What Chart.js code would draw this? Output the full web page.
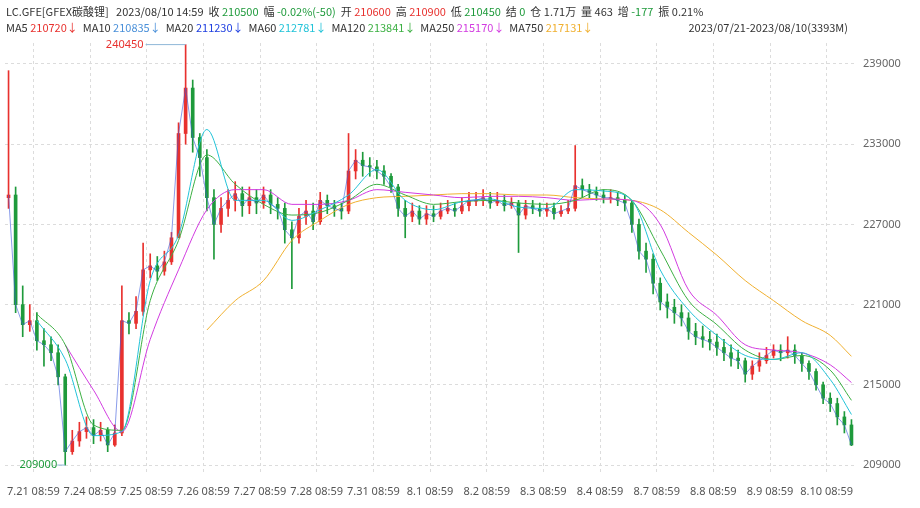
<!DOCTYPE html>
<html><head><meta charset="utf-8">
<script src="https://cdn.jsdelivr.net/npm/chart.js@4"></script>
<style>
body{margin:0;background:#fff;font-family:"Noto Sans CJK SC","Noto Sans",sans-serif;}
#wrap{position:relative;width:920px;height:508px;}
canvas{position:absolute;left:0;top:0;}
.h{position:absolute;font-size:11px;color:#333;white-space:nowrap;}
.r{color:#e8312e}.g{color:#1e9a3b}
</style></head><body>
<div id="wrap">
<canvas id="c" width="920" height="508"></canvas>
<div class="h" style="left:6px;top:3px">LC.GFE[GFEX碳酸锂] &nbsp; 2023/08/10 14:59 &nbsp;收 <span class="g">210500</span> &nbsp;幅 <span class="g">-0.02%(-50)</span> &nbsp;开 <span class="r">210600</span> &nbsp;高 <span class="r">210900</span> &nbsp;低 <span class="g">210450</span> &nbsp;结 <span class="g">0</span> &nbsp;仓 1.71万 &nbsp;量 463 &nbsp;增 <span class="g">-177</span> &nbsp;振 0.21%</div>
<div class="h" style="left:6px;top:19px">MA5 <span style="color:#e8312e">210720↓</span> &nbsp;MA10 <span style="color:#4a90d9">210835↓</span> &nbsp;MA20 <span style="color:#2040e0">211230↓</span> &nbsp;MA60 <span style="color:#22c3d8">212781↓</span> &nbsp;MA120 <span style="color:#3cb043">213841↓</span> &nbsp;MA250 <span style="color:#d23be0">215170↓</span> &nbsp;MA750 <span style="color:#f0b030">217131↓</span></div>
<div class="h" style="right:72px;top:19px">2023/07/21-2023/08/10(3393M)</div>
</div>
<script>
const days=["7.21 08:59","7.24 08:59","7.25 08:59","7.26 08:59","7.27 08:59","7.28 08:59","7.31 08:59","8.1 08:59","8.2 08:59","8.3 08:59","8.4 08:59","8.7 08:59","8.8 08:59","8.9 08:59","8.10 08:59"];
const yTicks=[209000,215000,221000,227000,233000,239000];
const firstOpen=229000;
const closes=[229200,221000,219500,219800,218300,218000,217400,215600,
210000,210800,211500,211800,211200,211600,210500,211400,
219800,219600,220500,223600,223900,223500,224200,226000,
233800,237200,233500,232000,229000,227000,228200,228800,
229300,228400,229000,228600,229200,228500,228200,226600,
226000,227600,228000,227200,228800,228400,228200,228000,
231000,231800,231400,231300,231000,230600,229800,228200,
227600,228000,227400,227800,227600,228000,228200,228000,
228400,228800,228800,229000,228600,228800,228400,228600,
227700,228400,228200,228000,228200,227800,228000,228200,
229900,229600,229400,229200,229000,229000,228800,228600,
227000,225000,224400,222600,221200,220800,220400,220000,
219000,218600,218400,218200,217800,217400,217000,216800,
215800,216400,216800,217200,217600,217400,217600,217200,
216600,216000,215000,214000,213600,212600,212000,210500];
const highs=[238500,229800,222400,221000,220400,219200,218600,218000,
215800,211600,212200,212600,212400,212200,211800,212000,
222400,220400,221600,225600,224800,224600,225000,226400,
234600,240450,237800,233800,232600,229600,229000,229600,
230200,229800,229800,229600,229800,229600,229000,228600,
227200,228200,228800,228600,229400,229200,228800,228600,
233800,232600,232400,232000,231800,231400,230800,230000,
228800,228600,228400,228400,228400,228600,228800,228600,
229000,229400,229400,229600,229400,229400,229200,229000,
228800,228800,228800,228600,228600,228600,228400,228800,
232900,230400,230000,229800,229600,229600,229400,229200,
228800,227400,225600,224800,223000,221800,221400,221000,
220400,219600,219400,219000,218800,218400,218000,217600,
217000,216800,217400,217800,218000,218000,218600,218000,
217400,216800,216200,215200,214400,214000,213000,212400];
const lows=[228200,220400,218600,219000,217600,216400,216800,215000,
209000,209800,210400,211000,210600,210800,210000,210400,
211200,218800,219200,220200,223000,222800,223200,224000,
226200,233000,232400,230600,228000,224400,226400,227600,
228000,227600,227800,227800,228200,227800,227400,225600,
222200,225600,227000,226600,227000,227800,227600,227400,
227800,230400,230600,230600,230400,230000,229400,227600,
226000,227200,227000,227000,227200,227400,227800,227600,
227800,228000,228400,228400,228200,228400,228000,228200,
224900,227400,227800,227600,227600,227400,227600,227800,
228000,229000,229000,228800,228600,228600,228400,228000,
226400,224400,223400,221800,220600,220000,219600,219400,
218400,218000,217800,217600,217200,216800,216400,216200,
215200,215400,216000,216600,217000,216800,217000,216600,
216000,215400,214600,213600,213000,212000,211400,210450];
// moving-average readings sampled at bars 0,4,8,...,116 and the last bar
const ma60=[null,219800,216900,211200,211500,222800,226200,234100,228800,228800,227300,228100,229200,231100,228800,228100,228700,228900,228300,228200,229600,229500,228800,223600,220600,218700,217200,216900,217400,215400,212781];
const ma120=[null,220300,218000,212000,211600,221300,225800,232200,230000,228500,227700,227900,228800,230000,229200,228500,228700,228800,228600,228500,228800,229600,228800,225100,221300,219500,217600,216900,217200,216100,213841];
const ma250=[null,null,218000,214600,211500,218400,223600,228100,229600,229600,228500,228500,228800,229600,229400,229200,229000,229100,229100,229000,228800,228900,228800,227000,222100,220200,218000,217600,217400,216500,215170];
const ma750=[null,null,null,null,null,null,null,219100,221300,222800,225800,227300,228500,229000,229100,229200,229300,229300,229200,229200,229000,228900,228800,228100,226400,224700,222800,221300,219800,218700,217131];

const N=closes.length;
const opens=closes.map((c,i)=>i===0?firstOpen:closes[i-1]);
const up=closes.map((c,i)=>c>=opens[i]);
const RED='#e8312e',GRN='#1e9a3b';
function expand(s){const a=[];for(let k=0;k<s.length;k++){const idx=k<s.length-1?k*4:N-1;if(s[k]!==null)a.push({x:idx+0.5,y:s[k]});}return a;}
const line=(d,c)=>({type:'line',data:expand(d),borderColor:c,borderWidth:1,pointRadius:0,cubicInterpolationMode:'monotone',order:0});
const cols=up.map(u=>u?RED:GRN);
const annot={id:'annot',afterDraw(ch){const c=ch.ctx,x=ch.scales.x,y=ch.scales.y,a=ch.chartArea;
 c.save();c.font='11px "Noto Sans","Noto Sans CJK SC",sans-serif';c.fillStyle='#555';c.textAlign='center';c.textBaseline='top';
 days.forEach((d,i)=>c.fillText(d,x.getPixelForValue(i*8+4),a.bottom+14));
 const px=x.getPixelForValue(25.5),py=y.getPixelForValue(240450);
 c.strokeStyle='#8fb8d8';c.lineWidth=1;c.beginPath();c.moveTo(px-40,py);c.lineTo(px,py);c.stroke();
 c.fillStyle=RED;c.textAlign='right';c.textBaseline='middle';c.fillText('240450',px-42,py);
 const lx=x.getPixelForValue(8.5),ly=y.getPixelForValue(209000);
 c.beginPath();c.moveTo(lx,ly);c.lineTo(lx-8,ly);c.stroke();
 c.fillStyle=GRN;c.fillText('209000',lx-8,ly);
 c.restore();}};
new Chart(document.getElementById('c'),{
 data:{datasets:[
  {type:'bar',data:closes.map((c,i)=>({x:i+0.5,y:[lows[i],highs[i]]})),backgroundColor:cols,barThickness:1,grouped:false,order:2},
  {type:'bar',data:closes.map((c,i)=>({x:i+0.5,y:[opens[i]===c?c-60:opens[i],c]})),backgroundColor:cols,barThickness:3,grouped:false,order:1},
  {type:'line',data:closes.map((c,i)=>({x:i+0.5,y:c})),borderColor:'rgba(60,90,220,0.6)',borderWidth:1,pointRadius:0,order:0},
  line(ma60,'#22c3d8'),line(ma120,'#3cb043'),line(ma250,'#d23be0'),line(ma750,'#f0b030')
 ]},
 options:{responsive:false,animation:false,events:[],
  layout:{padding:{top:43,left:5,right:0,bottom:0}},
  plugins:{legend:{display:false},tooltip:{enabled:false}},
  scales:{
   x:{type:'linear',min:0,max:N,offset:false,
      afterBuildTicks(s){s.ticks=[];for(let i=0;i<=N;i+=8)s.ticks.push({value:i});},
      ticks:{display:false},afterFit(s){s.height=36;},
      grid:{color:'#dcdcdc',tickLength:0,drawTicks:false},border:{display:true,color:'rgba(0,0,0,0)',dash:[3,3]}},
   y:{position:'right',min:208480,max:240570,
      afterBuildTicks(s){s.ticks=yTicks.map(v=>({value:v}));},
      afterFit(s){s.width=65;},
      ticks:{color:'#666',font:{size:11,family:'"Noto Sans",sans-serif'},padding:8,callback:v=>String(v)},
      grid:{color:'#dcdcdc',drawTicks:false},border:{display:true,color:'rgba(0,0,0,0)',dash:[3,3]}}
  }},
 plugins:[annot]});
</script></body></html>
